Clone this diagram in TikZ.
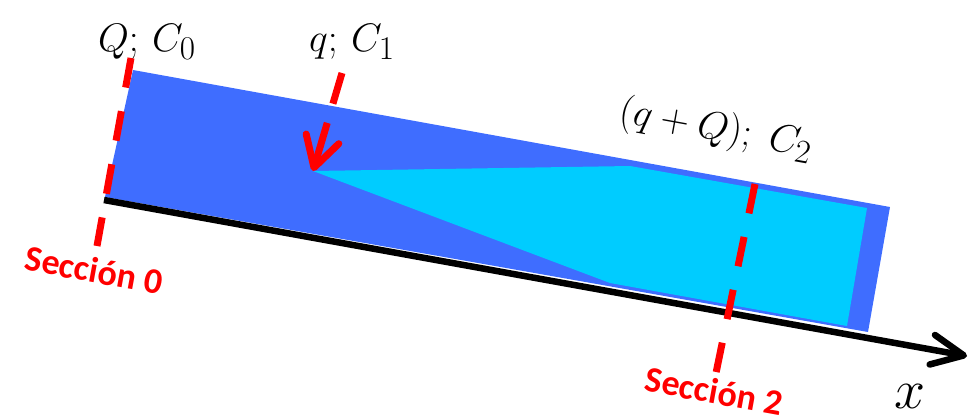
\documentclass[tikz,border=0pt]{standalone}
\usepackage{fontspec}
\newfontfamily\seccfont{Carlito}
\usetikzlibrary{arrows.meta}
\definecolor{CHBlue}{HTML}{3F6DFF}
\definecolor{CHCyan}{HTML}{00CCFF}
\definecolor{CHRed}{HTML}{FF0000}
\tikzset{
  seccline/.style={CHRed,line width=7pt,dash pattern=on 30pt off 24pt},
  seclabel/.style={text=CHRed,font=\seccfont\bfseries\fontsize{36}{42}\selectfont,rotate=-10.3},
  flowlabel/.style={font=\Huge,scale=1.6,transform shape},
}
\begin{document}
\begin{tikzpicture}[x=1pt,y=-1pt]
\path[use as bounding box] (0,0) rectangle (970,416);
\coordinate (chTL) at (133,70);
\coordinate (chTR) at (890,207);
\coordinate (chBR) at (868,332);
\coordinate (chBL) at (105,197);
\coordinate (mixTip) at (313,171);
\fill[CHBlue] (chTL) -- (chTR) -- (chBR) -- (chBL) -- cycle;
\fill[CHCyan] (mixTip) -- (630,166) -- (867,208) -- (847,326) -- (610,283) -- cycle;
\coordinate (axStart) at (104,200);
\coordinate (axEnd) at (967,356);
\draw[line width=6.5pt,-{Straight Barb[length=32pt,width=30pt,round]}] (axStart) -- (axEnd);
\coordinate (sec0Top) at (131,58);
\coordinate (sec0Bot) at (97,246);
\coordinate (sec2Top) at (755,184);
\coordinate (sec2Bot) at (716,373);
\coordinate (qTop) at (342,73);
\draw[seccline] (sec0Top) -- (sec0Bot);
\draw[seccline] (sec2Top) -- (sec2Bot);
\draw[seccline,dash pattern=on 32pt off 20pt on 80pt off 0pt,-{Straight Barb[length=30pt,width=34pt,round]}] (qTop) -- (mixTip);
\node[flowlabel] (lblQ) at (147,42) {$Q;\,C_0$};
\node[flowlabel] (lblq) at (352,42) {$q;\,C_1$};
\node[flowlabel,rotate=-10.3] (lblqQ) at (716,130) {$(q+Q);\;C_2$};
\node[flowlabel,scale=1.4] (lblx) at (910,396) {$x$};
\node[seclabel] (sec0) at (94,270) {Sección 0};
\node[seclabel] (sec2) at (714,391) {Sección 2};
\end{tikzpicture}
\end{document}
